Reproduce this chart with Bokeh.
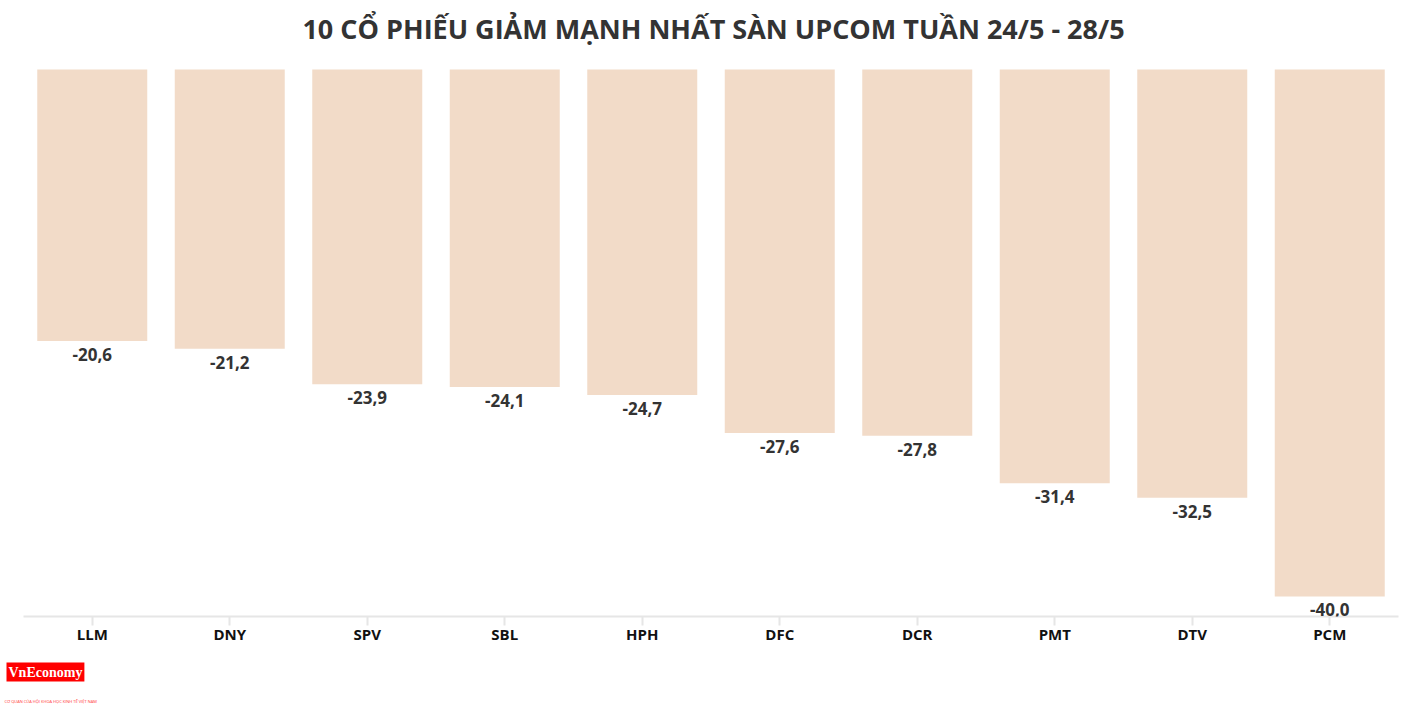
from bokeh.plotting import figure
from bokeh.models import Range1d, Label, ColumnDataSource, LabelSet, FactorRange, Title
from bokeh.core.properties import value
from bokeh.embed import file_html
from bokeh.resources import INLINE

categories = ["LLM", "DNY", "SPV", "SBL", "HPH", "DFC", "DCR", "PMT", "DTV", "PCM"]
values = [-20.6, -21.2, -23.9, -24.1, -24.7, -27.6, -27.8, -31.4, -32.5, -40.0]
value_labels = [f"{v:.1f}".replace(".", ",") for v in values]
title_text = "10 CỔ PHIẾU GIẢM MẠNH NHẤT SÀN UPCOM TUẦN 24/5 - 28/5"
logo_text = "VnEconomy"
logo_sub = "CƠ QUAN CỦA HỘI KHOA HỌC KINH TẾ VIỆT NAM"

H = 704
FRAME_H = 616  # frame spans from canvas top to the axis line
src = ColumnDataSource(dict(cat=categories, val=values, lab=value_labels))

p = figure(
    x_range=FactorRange(*categories, range_padding=0),
    y_range=Range1d(-41.52, 5.237),
    width=1410, height=H,
    output_backend="svg", toolbar_location=None,
    min_border_left=23, min_border_right=12, min_border_top=0, min_border_bottom=82,
)

p.vbar(x="cat", top=0, bottom="val", width=0.8, source=src,
       fill_color="#f2dbc8", line_color=None)

labels = LabelSet(x="cat", y="val", text="lab", source=src,
                  text_align="center", text_baseline="top", y_offset=-7,
                  text_font=value("Open Sans"), text_font_style="bold",
                  text_font_size="17px", text_color="#333333")
p.add_layout(labels)

p.yaxis.visible = False
p.xgrid.grid_line_color = None
p.ygrid.grid_line_color = None
p.outline_line_color = None
p.background_fill_color = "white"
p.border_fill_color = "white"

ax = p.xaxis[0]
ax.axis_line_color = "#e6e6e6"
ax.axis_line_width = 2
ax.major_tick_line_color = "#e6e6e6"
ax.major_tick_line_width = 2
ax.major_tick_out = 9
ax.major_tick_in = 0
ax.minor_tick_line_color = None
ax.major_label_standoff = -2
ax.major_label_text_font = "Open Sans"
ax.major_label_text_font_style = "bold"
ax.major_label_text_font_size = "15px"
ax.major_label_text_color = "#111111"

# screen units are measured from the frame's bottom-left corner
title = Label(x=713 - 23, y=FRAME_H - 28, x_units="screen", y_units="screen", text=title_text,
              text_align="center", text_baseline="middle",
              text_font="Open Sans", text_font_style="bold", text_font_size="27px",
              text_color="#333333")
p.add_layout(title)

logo = Title(text=logo_text, align="left", offset=-17, standoff=28,
             text_font="Liberation Serif", text_font_style="bold", text_font_size="14px",
             text_color="white", background_fill_color="#ff0000", padding=2)
p.add_layout(logo, "below")
sub = Title(text=logo_sub, align="left", offset=-19, standoff=2,
            text_font="Open Sans", text_font_style="normal", text_font_size="4px",
            text_color="#ff3333")
p.add_layout(sub, "below")

open("out.html", "w").write(file_html(p, INLINE))
